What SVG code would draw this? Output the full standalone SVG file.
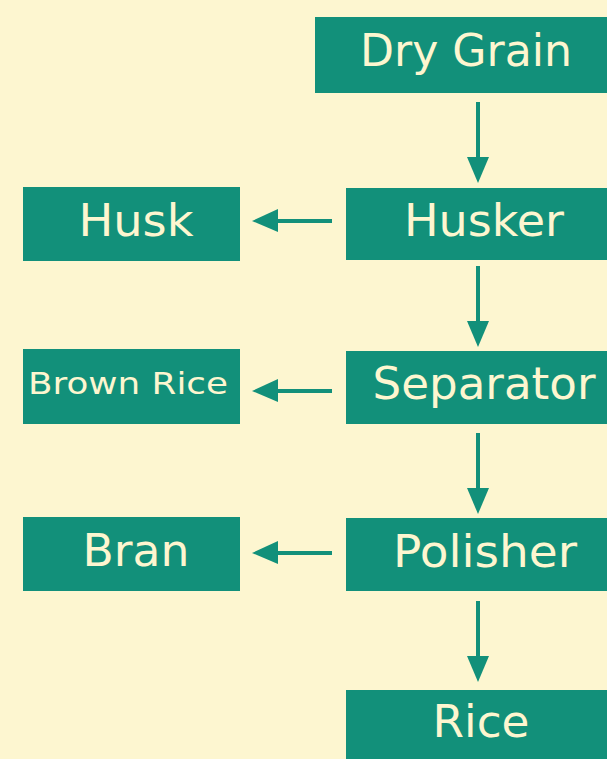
<svg xmlns="http://www.w3.org/2000/svg" width="607" height="759" viewBox="0 0 607 759">
<defs>
<style>
.box{fill:#12907A;}
.t{fill:#FDF6D0;font-family:"DejaVu Sans",sans-serif;font-size:44px;text-anchor:middle;}
.s{font-size:31px;}
.c{stroke:#12907A;stroke-width:4;fill:none;}
.h{fill:#12907A;}
</style>
</defs>
<rect width="607" height="759" fill="#FDF6D0"/>
<g id="dry-grain"><rect class="box" x="315" y="17" width="302" height="76"/><text class="t" x="466" y="66" textLength="212" lengthAdjust="spacingAndGlyphs">Dry Grain</text></g>
<g id="husker"><rect class="box" x="346" y="188" width="276" height="72"/><text class="t" x="484" y="236" textLength="160" lengthAdjust="spacingAndGlyphs">Husker</text></g>
<g id="separator"><rect class="box" x="346" y="351" width="276" height="73"/><text class="t" x="484" y="399" textLength="223" lengthAdjust="spacingAndGlyphs">Separator</text></g>
<g id="polisher"><rect class="box" x="346" y="518" width="276" height="73"/><text class="t" x="485" y="567" textLength="184" lengthAdjust="spacingAndGlyphs">Polisher</text></g>
<g id="rice"><rect class="box" x="346" y="690" width="276" height="80"/><text class="t" x="481" y="737" textLength="97" lengthAdjust="spacingAndGlyphs">Rice</text></g>
<g id="husk"><rect class="box" x="23" y="187" width="217" height="74"/><text class="t" x="136" y="236" textLength="115" lengthAdjust="spacingAndGlyphs">Husk</text></g>
<g id="brown-rice"><rect class="box" x="23" y="349" width="217" height="75"/><text class="t s" x="128" y="394" textLength="200" lengthAdjust="spacingAndGlyphs">Brown Rice</text></g>
<g id="bran"><rect class="box" x="23" y="517" width="217" height="74"/><text class="t" x="136" y="566" textLength="107" lengthAdjust="spacingAndGlyphs">Bran</text></g>
<g id="connectors">
<line class="c" x1="478" y1="102" x2="478" y2="160"/><polygon class="h" points="467,157 489,157 478,183"/>
<line class="c" x1="478" y1="266" x2="478" y2="324"/><polygon class="h" points="467,321 489,321 478,347"/>
<line class="c" x1="478" y1="433" x2="478" y2="491"/><polygon class="h" points="467,488 489,488 478,514"/>
<line class="c" x1="478" y1="601" x2="478" y2="659"/><polygon class="h" points="467,656 489,656 478,682"/>
<line class="c" x1="332" y1="221" x2="275" y2="221"/><polygon class="h" points="278,209 278,232 252,221"/>
<line class="c" x1="332" y1="391" x2="275" y2="391"/><polygon class="h" points="278,379 278,402 252,391"/>
<line class="c" x1="332" y1="553" x2="275" y2="553"/><polygon class="h" points="278,541 278,564 252,553"/>
</g>
</svg>
